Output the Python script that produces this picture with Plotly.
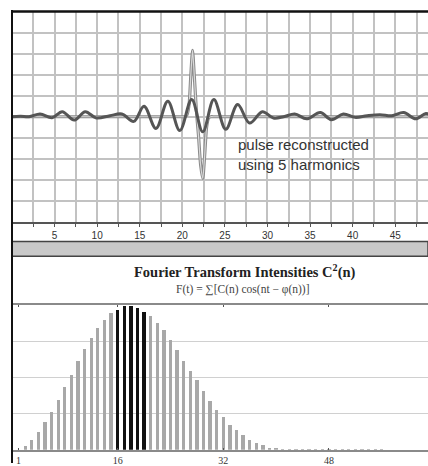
import plotly.graph_objects as go

# ---- top panel: reconstructed pulse ----
recon_x = [0, 1, 2, 3.3, 4.7, 5.9, 7.3, 8.6, 9.9, 11.5, 12.9, 14.3, 15.5, 16.9, 18.3, 19.7,
           21.1, 22.4, 23.7, 25.1, 26.5, 27.9, 29.4, 30.7, 31.9, 33.2, 34.6, 36.2, 37.5,
           38.9, 40.3, 41.7, 43.2, 44.6, 46.0, 47.4, 48.6, 49]
recon_y = [0, 0.02, 0.0, 0.13, -0.05, 0.24, -0.16, 0.24, -0.06, 0.05, 0.13, -0.22, 0.50, -0.56,
           0.74, -0.66, 0.82, -0.72, 0.82, -0.60, 0.58, -0.30, 0.24, -0.06, 0.0, 0.13, -0.10,
           0.20, -0.14, 0.13, -0.03, 0.05, 0.10, 0.05, 0.20, -0.10, 0.16, 0.1]

pulse_x = [0, 10, 20.0, 20.3, 20.55, 20.8, 21.0, 21.2, 21.4, 21.65, 21.9, 22.15, 22.4, 22.6,
           22.85, 23.1, 23.35, 23.6, 30, 49]
pulse_y = [0, 0, 0, 0, 0.1, 0.6, 2.0, 3.17, 2.0, 0.3, -0.9, -2.3, -2.94, -2.0,
           -0.5, -0.05, 0, 0, 0, 0]

top_ticks = [5, 10, 15, 20, 25, 30, 35, 40, 45]

# ---- bottom panel: Fourier transform intensities ----
n_vals = list(range(2, 57))
intensity = [0.025, 0.069, 0.122, 0.19, 0.264, 0.344, 0.431, 0.519, 0.615, 0.695, 0.771,
             0.838, 0.895, 0.943, 0.968, 0.994, 0.996, 0.982, 0.955, 0.922, 0.877, 0.826,
             0.757, 0.691, 0.615, 0.546, 0.482, 0.404, 0.34, 0.278, 0.228, 0.172, 0.135,
             0.103, 0.069, 0.046, 0.03, 0.014, 0.006, 0.005, 0.004, 0.003, 0.003, 0.003,
             0.003, 0.003, 0.003, 0.003, 0.003, 0.003, 0.003, 0.003, 0.003, 0.003, 0.003]
highlighted = [16, 17, 18, 19, 20]
bottom_ticks = [1, 16, 32, 48]

W, H = 428, 466
L = 12 / W

fig = go.Figure()

fig.add_trace(go.Scatter(x=pulse_x, y=pulse_y, mode="lines", line=dict(color="#8a8a8a", width=3.2, shape="spline", smoothing=0.6),
                         xaxis="x", yaxis="y", hoverinfo="skip", showlegend=False))
fig.add_trace(go.Scatter(x=pulse_x, y=pulse_y, mode="lines", line=dict(color="#d8d8d8", width=1.2, shape="spline", smoothing=0.6),
                         xaxis="x", yaxis="y", hoverinfo="skip", showlegend=False))
fig.add_trace(go.Scatter(x=recon_x, y=recon_y, mode="lines", line=dict(color="#555555", width=3, shape="spline", smoothing=1),
                         xaxis="x", yaxis="y", showlegend=False))

colors = ["#111111" if n in highlighted else "#a8a8a8" for n in n_vals]
fig.add_trace(go.Bar(x=n_vals, y=intensity, width=0.5, marker=dict(color=colors, line=dict(width=0)),
                     xaxis="x2", yaxis="y2", showlegend=False))

fig.update_layout(
    width=W, height=H, margin=dict(l=0, r=0, t=0, b=0),
    paper_bgcolor="white", plot_bgcolor="white", bargap=0,
    xaxis=dict(domain=[L, 1], range=[0, 48.85], tickvals=top_ticks, ticks="outside", ticklen=3,
               tickcolor="#555", showgrid=True, gridcolor="#c2c2c2", gridwidth=1.5,
               minor=dict(dtick=2.5, tick0=0, ticks="outside", ticklen=3, tickcolor="#555",
                          showgrid=True, gridcolor="#c2c2c2", gridwidth=1.5),
               showline=True, linecolor="#555", linewidth=2, zeroline=False,
               tickfont=dict(family="Liberation Sans", size=10, color="#333"), anchor="y"),
    yaxis=dict(domain=[1 - 223 / H, 1 - 12 / H], range=[-5, 5], dtick=1, showticklabels=False,
               showgrid=True, gridcolor="#c2c2c2", gridwidth=1.5, zeroline=False, anchor="x"),
    xaxis2=dict(domain=[L, 1], range=[0, 63], tickvals=bottom_ticks, ticks="inside", ticklen=2,
                tickcolor="#555", mirror="ticks", showline=True, linecolor="#8a8a8a", linewidth=2,
                showgrid=False, zeroline=False,
                tickfont=dict(family="Liberation Serif", size=10, color="#333"), anchor="y2"),
    yaxis2=dict(domain=[1 - 452.7 / H, 1 - 307 / H], range=[0, 1], dtick=0.25, showticklabels=False,
                showgrid=True, gridcolor="#d0d0d0", gridwidth=1.3, zeroline=False, anchor="x2"),
    shapes=[
        # grey separator band
        dict(type="rect", xref="paper", yref="paper", x0=L, x1=1, y0=1 - 258 / H, y1=1 - 243 / H,
             fillcolor="#c9c9c9", line=dict(color="#444", width=1.5)),
        # top border of upper panel
        dict(type="line", xref="paper", yref="paper", x0=L, x1=1, y0=1 - 11.5 / H, y1=1 - 11.5 / H,
             line=dict(color="#111", width=2.5)),
        # left border
        dict(type="line", xref="paper", yref="paper", x0=L, x1=L, y0=0, y1=1 - 10 / H,
             line=dict(color="#111", width=2)),
    ],
    annotations=[
        dict(xref="paper", yref="paper", x=236 / W, y=1 - 156 / H, xanchor="left", yanchor="middle",
             text="pulse reconstructed<br>using 5 harmonics", showarrow=False, align="left",
             font=dict(family="Liberation Sans", size=15, color="#333")),
        dict(xref="paper", yref="paper", x=245 / W, y=1 - 273 / H, xanchor="center", yanchor="middle",
             text="<b>Fourier Transform Intensities C<sup>2</sup>(n)</b>", showarrow=False,
             font=dict(family="Liberation Serif", size=14.5, color="#222")),
        dict(xref="paper", yref="paper", x=243 / W, y=1 - 291.5 / H, xanchor="center", yanchor="middle",
             text="F(t) = ∑[C(n) cos(nt − φ(n))]", showarrow=False,
             font=dict(family="Liberation Serif", size=11.5, color="#444")),
        dict(xref="paper", yref="paper", x=434 / W, y=1 - 461 / H, xanchor="center", yanchor="middle",
             text="64", showarrow=False, font=dict(family="Liberation Serif", size=10, color="#333")),
    ],
)

fig.write_html("out.html", config={"displayModeBar": False},
               post_script="document.body.style.margin='0px';document.body.style.overflow='hidden';")
